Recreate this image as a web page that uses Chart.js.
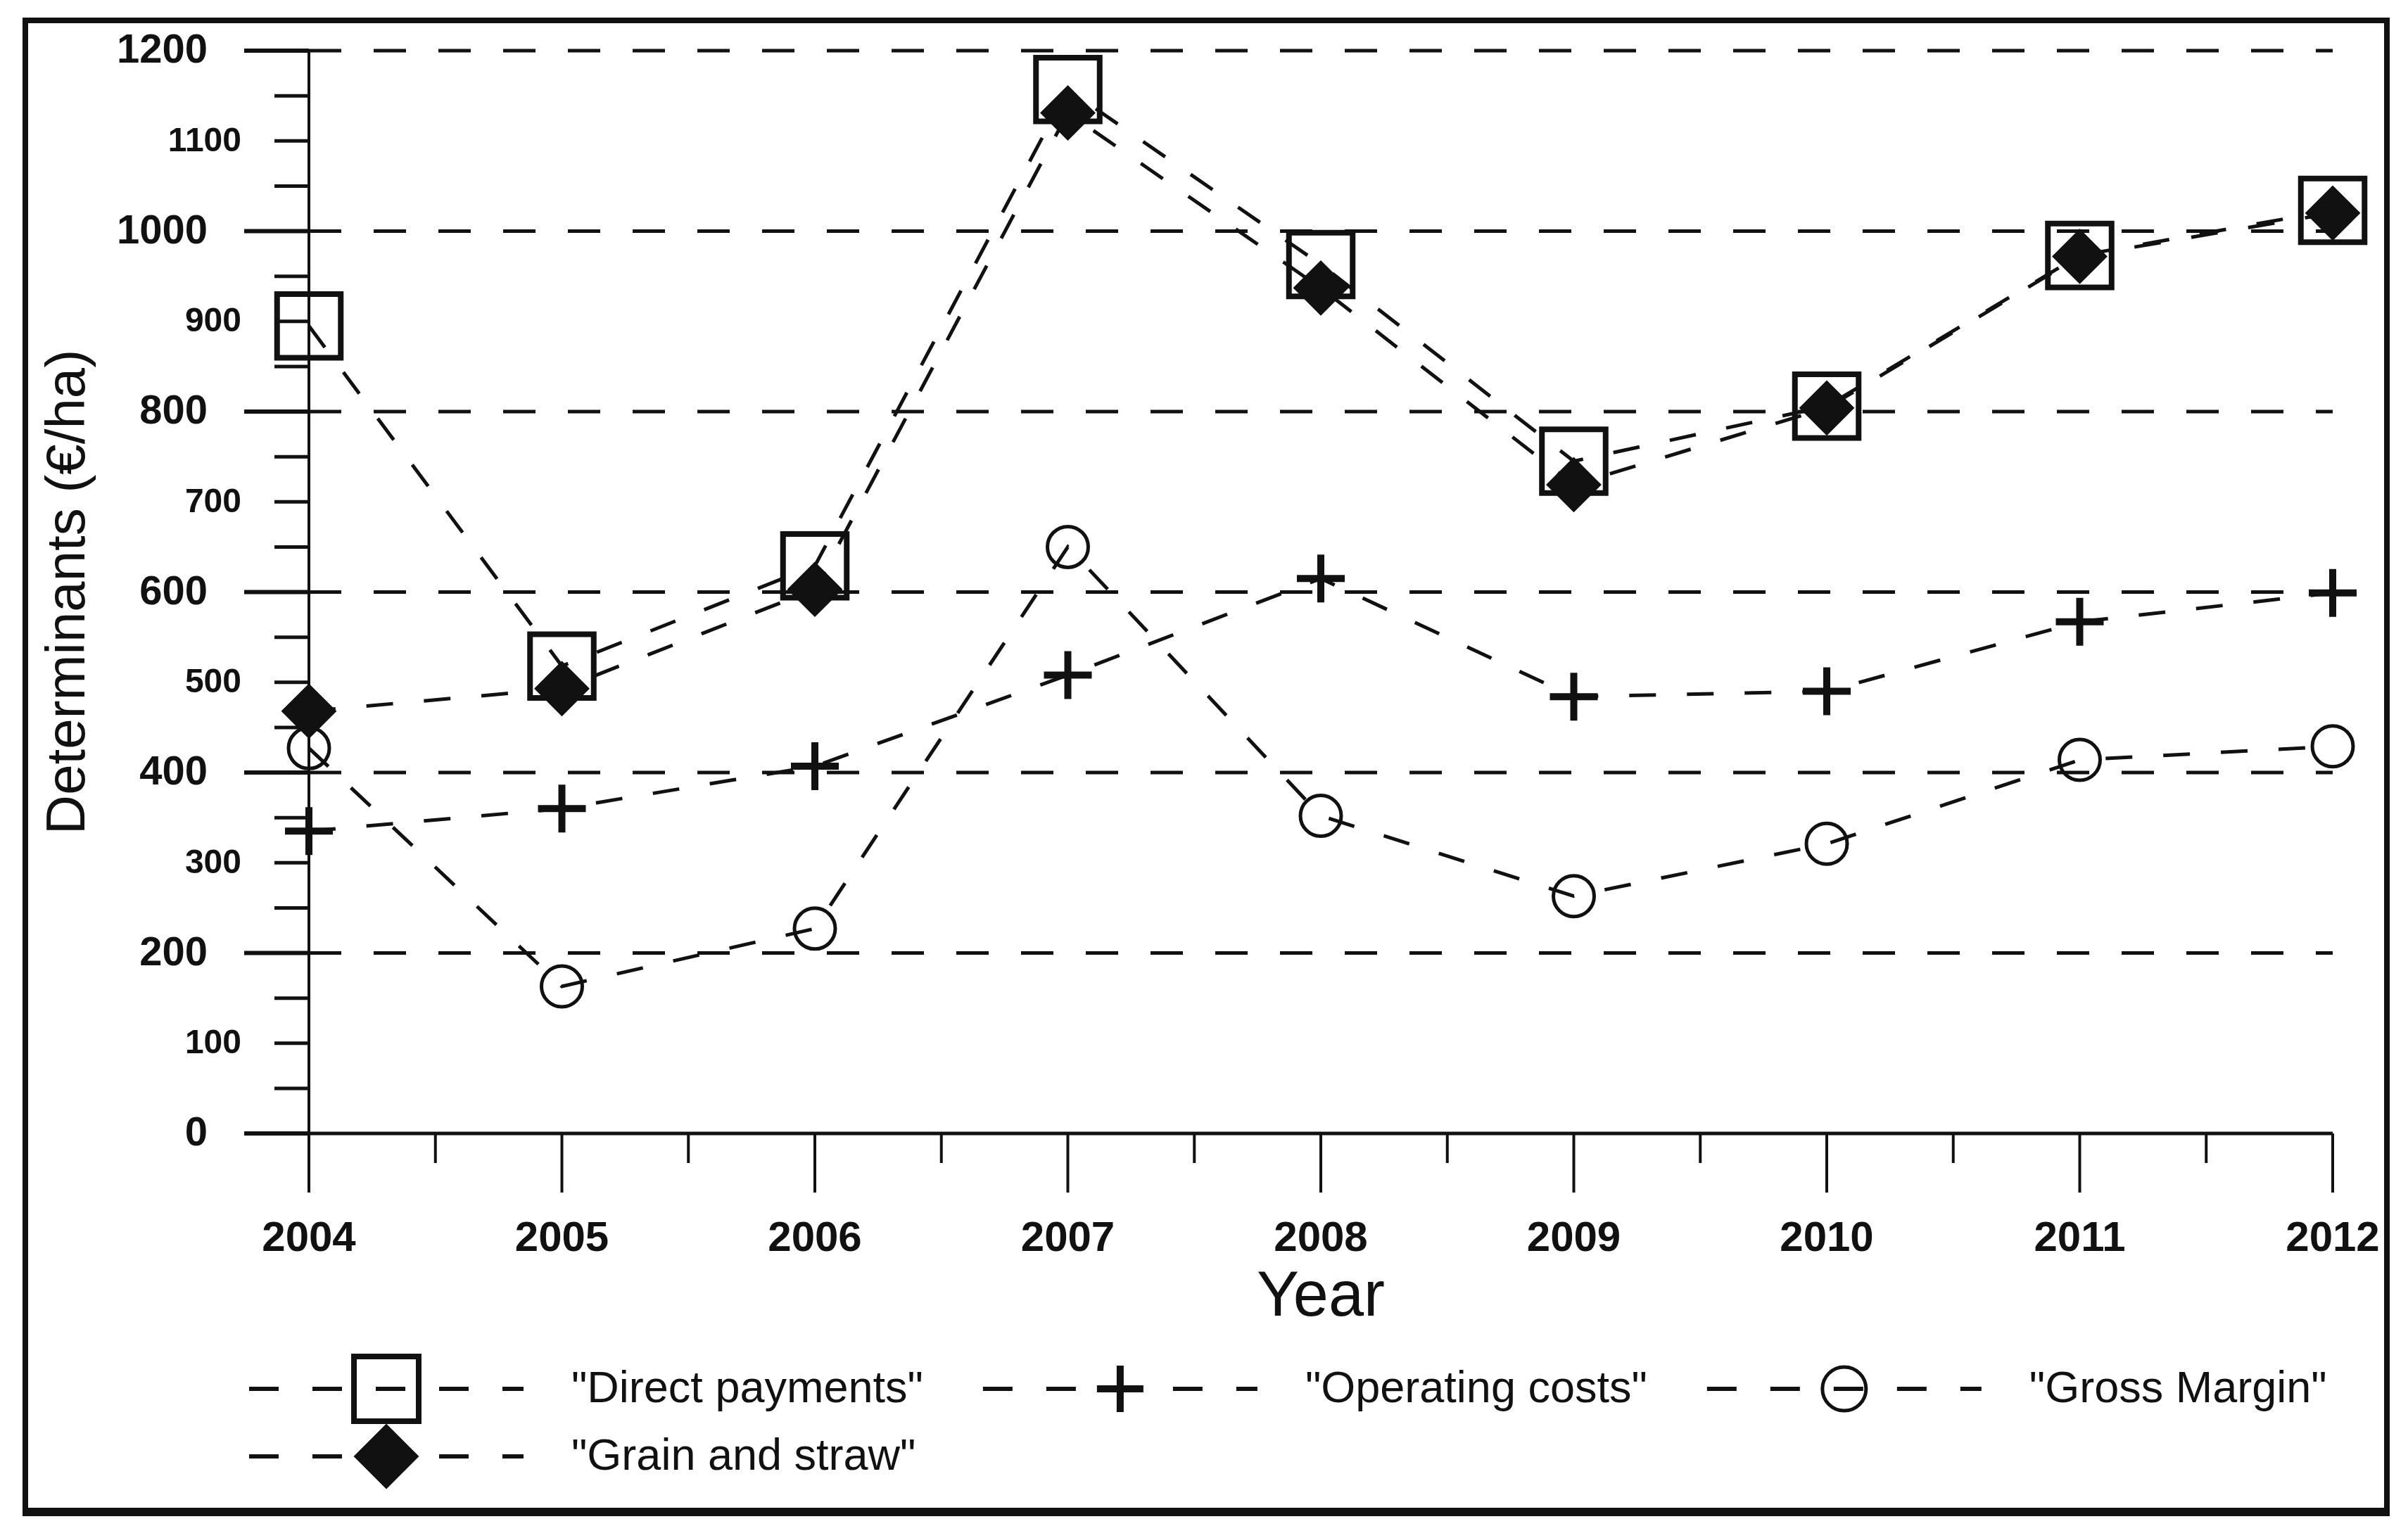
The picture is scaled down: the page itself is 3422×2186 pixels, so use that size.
<!DOCTYPE html>
<html>
<head>
<meta charset="utf-8">
<script src="https://cdn.jsdelivr.net/npm/chart.js@4.4.1/dist/chart.umd.min.js"></script>
<style>
    html, body { margin: 0; padding: 0; background: #fff; }
    #wrap { width: 3422px; height: 2186px; }
</style>
</head>
<body>
<div id="wrap"><canvas id="detChart"></canvas></div>
<script>
const years = ["2004", "2005", "2006", "2007", "2008", "2009", "2010", "2011", "2012"];
const directPayments = [895, 518, 629, 1157, 963, 745, 806, 973, 1023];
const grainAndStraw = [468, 493, 603, 1131, 937, 719, 804, 972, 1020];
const operatingCosts = [335, 360, 407, 508, 615, 484, 490, 567, 599];
const grossMargin = [427, 163, 227, 650, 352, 263, 321, 414, 429];
const yTicks = [0, 100, 200, 300, 400, 500, 600, 700, 800, 900, 1000, 1100, 1200];
const gridValues = [200, 400, 600, 800, 1000, 1200];

const FONT = '"Liberation Sans", Arial, sans-serif';
const INK = "#111";

function seg(ctx, x1, y1, x2, y2) {
    ctx.beginPath();
    ctx.moveTo(x1, y1);
    ctx.lineTo(x2, y2);
    ctx.stroke();
}

const axisDecor = {
    id: "axisDecor",
    beforeDatasetsDraw(chart) {
        const { ctx, chartArea: a, scales: { x, y } } = chart;
        ctx.save();
        ctx.strokeStyle = INK;
        ctx.fillStyle = INK;

        // dashed horizontal grid
        ctx.lineWidth = 5;
        ctx.setLineDash([46, 46]);
        gridValues.forEach((v) => {
            const py = y.getPixelForValue(v);
            seg(ctx, a.left, py, a.right, py);
        });
        ctx.setLineDash([]);

        // y ticks (every 50), long stubs on grid values
        for (let v = 0; v <= 1200; v += 50) {
            const py = y.getPixelForValue(v);
            if (v % 200 === 0) {
                ctx.lineWidth = 6;
                seg(ctx, a.left - 92, py, a.left, py);
            } else {
                ctx.lineWidth = 5;
                seg(ctx, a.left - 49, py, a.left, py);
            }
        }

        // y tick labels
        ctx.textAlign = "right";
        ctx.textBaseline = "alphabetic";
        yTicks.forEach((v) => {
            const py = y.getPixelForValue(v);
            const big = v % 200 === 0;
            const size = big ? 58 : 48;
            ctx.font = "bold " + size + "px " + FONT;
            const right = big ? a.left - 144 : a.left - 96;
            ctx.fillText(String(v), right, py + size * 0.3);
        });

        // axes
        ctx.lineWidth = 5;
        seg(ctx, a.left - 92, a.bottom, a.right, a.bottom);
        ctx.lineWidth = 4;
        seg(ctx, a.left, a.top, a.left, a.bottom);

        // x ticks: years long, half years short
        ctx.lineWidth = 4;
        years.forEach((yr, i) => {
            const px = x.getPixelForValue(i);
            seg(ctx, px, a.bottom, px, a.bottom + 84);
            if (i < years.length - 1) {
                const mx = x.getPixelForValue(i + 0.5);
                seg(ctx, mx, a.bottom, mx, a.bottom + 42);
            }
        });

        // x tick labels
        ctx.font = "bold 60px " + FONT;
        ctx.textAlign = "center";
        years.forEach((yr, i) => {
            ctx.fillText(yr, x.getPixelForValue(i), a.bottom + 167);
        });

        // axis titles
        ctx.font = "90px " + FONT;
        ctx.fillText("Year", (a.left + a.right) / 2, a.bottom + 259);

        ctx.save();
        ctx.translate(120, (a.top + a.bottom) / 2);
        ctx.rotate(-Math.PI / 2);
        ctx.font = "78px " + FONT;
        ctx.fillText("Determinants (€/ha)", 0, 0);
        ctx.restore();

        ctx.restore();
    },
    afterDraw(chart) {
        const { ctx, chartArea: a } = chart;
        ctx.save();
        ctx.strokeStyle = INK;

        // legend
        const symLen = 390;
        let lx = 354;
        let ly = 1974;
        ctx.font = "63px " + FONT;
        ctx.textBaseline = "middle";
        ctx.textAlign = "left";
        chart.data.datasets.forEach((ds) => {
            const tw = ctx.measureText(ds.label).width;
            if (lx + symLen + 68 + tw > a.right + 80) {
                lx = 354;
                ly += 96;
            }
            ctx.lineWidth = 6;
            ctx.setLineDash([42, 48]);
            seg(ctx, lx, ly, lx + symLen, ly);
            ctx.setLineDash([]);
            ctx.fillStyle = ds.pointBackgroundColor;
            ctx.strokeStyle = INK;
            ctx.lineWidth = ds.pointBorderWidth;
            Chart.helpers.drawPoint(ctx, {
                pointStyle: ds.pointStyle,
                radius: ds.legendRadius,
                borderWidth: ds.pointBorderWidth,
                rotation: 0,
            }, lx + symLen / 2, ly);
            ctx.fillStyle = INK;
            ctx.fillText(ds.label, lx + symLen + 68, ly + 2);
            lx += symLen + 68 + tw + 85;
        });

        // outer frame, heavier at the bottom
        ctx.lineWidth = 8;
        ctx.strokeRect(36, 29, 3356, 2121);
        ctx.lineWidth = 12;
        seg(ctx, 32, 2149, 3396, 2149);
        ctx.restore();
    },
};

const baseLine = {
    borderColor: INK,
    borderWidth: 5,
    borderDash: [38, 44],
    tension: 0,
    fill: false,
    pointBorderColor: INK,
    clip: false,
};

new Chart(document.getElementById("detChart"), {
    type: "line",
    data: {
        labels: years,
        datasets: [
            {
                ...baseLine,
                label: '"Direct payments"',
                data: directPayments,
                pointStyle: "rect",
                pointRadius: 64,
                legendRadius: 65,
                pointBorderWidth: 8,
                pointBackgroundColor: "rgba(0,0,0,0)",
                order: 1,
            },
            {
                ...baseLine,
                label: '"Operating costs"',
                data: operatingCosts,
                pointStyle: "cross",
                pointRadius: 34,
                legendRadius: 33,
                pointBorderWidth: 10,
                pointBackgroundColor: "rgba(0,0,0,0)",
                order: 1,
            },
            {
                ...baseLine,
                label: '"Gross Margin"',
                data: grossMargin,
                pointStyle: "circle",
                pointRadius: 29,
                legendRadius: 31,
                pointBorderWidth: 5,
                pointBackgroundColor: "rgba(0,0,0,0)",
                order: 1,
            },
            {
                ...baseLine,
                label: '"Grain and straw"',
                data: grainAndStraw,
                pointStyle: "rectRot",
                pointRadius: 38,
                legendRadius: 45,
                pointBorderWidth: 2,
                pointBackgroundColor: INK,
                order: 0,
            },
        ],
    },
    options: {
        responsive: true,
        maintainAspectRatio: false,
        devicePixelRatio: 1,
        animation: false,
        events: [],
        layout: {
            padding: { left: 439, right: 107, top: 65, bottom: 575 },
        },
        plugins: {
            legend: { display: false },
            tooltip: { enabled: false },
            title: { display: false },
        },
        scales: {
            x: {
                type: "category",
                offset: false,
                display: false,
            },
            y: {
                min: 0,
                max: 1200,
                display: false,
            },
        },
    },
    plugins: [axisDecor],
});
</script>
</body>
</html>
